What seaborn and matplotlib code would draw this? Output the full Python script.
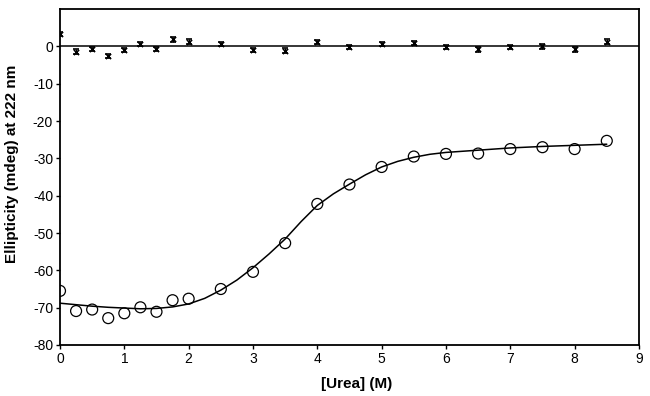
import matplotlib
matplotlib.use('Agg')
import matplotlib.pyplot as plt
import pandas as pd
import seaborn as sns

sns.set_style("ticks", {'axes.edgecolor': 'black', 'text.color': 'black',
                        'xtick.color': 'black', 'ytick.color': 'black',
                        'axes.labelcolor': 'black'})
plt.rcParams['font.family'] = ['Liberation Sans', 'DejaVu Sans']
plt.rcParams['axes.unicode_minus'] = False

# urea concentrations (M)
urea = [0, 0.25, 0.5, 0.75, 1.0, 1.25, 1.5, 1.75, 2.0, 2.5, 3.0, 3.5, 4.0,
        4.5, 5.0, 5.5, 6.0, 6.5, 7.0, 7.5, 8.0, 8.5]
# ellipticity at 222 nm (mdeg)
ellipticity = [-65.5, -70.9, -70.5, -72.8, -71.5, -69.9, -71.1, -68.0, -67.6,
               -65.0, -60.4, -52.7, -42.2, -37.0, -32.3, -29.5, -28.8, -28.7,
               -27.5, -27.0, -27.5, -25.3]
# residuals of the fit
residuals = [3.4, -1.4, -0.7, -2.5, -0.9, 0.7, -0.7, 1.9, 1.3, 0.7, -0.9, -1.1,
             1.2, -0.2, 0.6, 0.9, -0.1, -0.8, -0.1, 0.0, -0.8, 1.3]
res_err = 0.6

# fitted curve
fit_x = [0, 0.25, 0.5, 0.75, 1.0, 1.25, 1.5, 1.75, 2.0, 2.25, 2.5, 2.75, 3.0,
         3.25, 3.5, 3.75, 4.0, 4.25, 4.5, 4.75, 5.0, 5.25, 5.5, 5.75, 6.0,
         6.5, 7.0, 7.5, 8.0, 8.5]
fit_y = [-68.8, -69.2, -69.6, -69.9, -70.1, -70.3, -70.2, -69.8, -69.0, -67.5,
         -65.3, -62.6, -59.3, -55.6, -51.6, -46.9, -42.6, -39.5, -36.9, -34.4,
         -32.3, -30.8, -29.7, -28.9, -28.4, -27.8, -27.2, -26.8, -26.5, -26.2]
zero_x = [0, 9]
zero_y = [0, 0]

data = pd.DataFrame({'urea': urea, 'ell': ellipticity, 'res': residuals})
fit = pd.DataFrame({'x': fit_x, 'y': fit_y})

fig = plt.figure(figsize=(6.5, 3.96), dpi=100)
ax = fig.add_axes([0.0923, 0.1288, 0.8907, 0.8482])

sns.lineplot(fit, x='x', y='y', color='black', linewidth=1.1, ax=ax)
sns.lineplot(x=zero_x, y=zero_y, color='black', linewidth=1.1, ax=ax)
sns.scatterplot(data, x='urea', y='ell', marker='o', s=62, facecolor='none',
                edgecolor='black', linewidth=0.9, ax=ax, zorder=3)
ax.errorbar(data['urea'], data['res'], yerr=res_err, fmt='none', ecolor='black',
            elinewidth=0.8, capsize=2.2, capthick=1.2, zorder=3)
sns.scatterplot(data, x='urea', y='res', marker='x', s=14, color='black',
                linewidth=1.2, ax=ax, zorder=4)

ax.set_xlim(0, 9)
ax.set_ylim(-80, 10)
ax.set_xticks(range(0, 10))
ax.set_yticks(range(-80, 1, 10))
ax.tick_params(direction='out', length=3, width=1, labelsize=10, pad=2)
for s in ax.spines.values():
    s.set_linewidth(1.3)
ax.set_xlabel('[Urea] (M)', fontsize=11, fontweight='bold')
ax.set_ylabel('Ellipticity (mdeg) at 222 nm', fontsize=11, fontweight='bold')
ax.xaxis.set_label_coords(0.513, -0.095)
ax.yaxis.set_label_coords(-0.07, 0.54)

fig.savefig('out.png', dpi=100)
